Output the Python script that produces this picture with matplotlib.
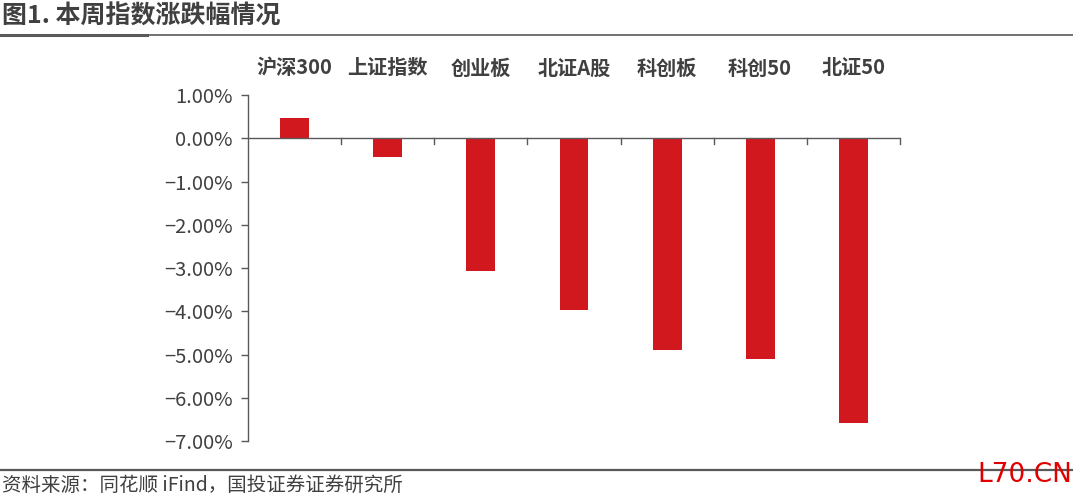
import matplotlib
matplotlib.use('Agg')
import matplotlib.pyplot as plt
from matplotlib.ticker import FuncFormatter
from matplotlib.lines import Line2D

plt.rcParams['font.family'] = ['Noto Sans CJK SC', 'DejaVu Sans']

# Index names and weekly change (%)
categories = ['沪深300', '上证指数', '创业板', '北证A股', '科创板', '科创50', '北证50']
changes = [0.47, -0.44, -3.07, -3.97, -4.89, -5.10, -6.58]

title = '图1. 本周指数涨跌幅情况'
source = '资料来源：同花顺 iFind，国投证券证券研究所'

grey = '#404040'
fig = plt.figure(figsize=(10.73, 4.98), dpi=100)
ax = fig.add_axes([248 / 1073, 1 - 441 / 498, (900 - 248) / 1073, (441 - 95) / 498])

x = list(range(len(categories)))
ax.bar(x, changes, width=0.31, color='#d2181f', zorder=2)

ax.set_xlim(-0.5, len(categories) - 0.5)
ax.set_ylim(-7, 1)
ax.set_yticks([1, 0, -1, -2, -3, -4, -5, -6, -7])
ax.yaxis.set_major_formatter(FuncFormatter(lambda v, p: f'{v:.2f}%'.replace('-', '−')))
ax.tick_params(axis='y', length=5, width=1, color='#595959', labelsize=14.5,
               labelcolor=grey, pad=6)

for s in ['top', 'right', 'bottom']:
    ax.spines[s].set_visible(False)
ax.spines['left'].set_color('#595959')
ax.spines['left'].set_linewidth(1)

# zero line with ticks at category boundaries
ax.axhline(0, color='#595959', lw=1, zorder=3)
ax.set_xticks([])
for b in range(1, len(categories) + 1):
    ax.plot([b - 0.5, b - 0.5], [0, -0.14], color='#595959', lw=1, zorder=3, clip_on=False)

# category labels above plot
for i, c in enumerate(categories):
    fig.text((248 + 93.1 * (i + 0.5)) / 1073, 1 - 68 / 498, c, ha='center', va='center',
             fontsize=14.5, color=grey, fontweight='bold')

# title and rules
fig.text(0.002, 1 - 17 / 498, title, ha='left', va='center', fontsize=18,
         color=grey, fontweight='bold')
fig.add_artist(Line2D([0, 1], [1 - 35 / 498, 1 - 35 / 498], color='#595959', lw=1.2))
fig.add_artist(Line2D([0, 147 / 1073], [1 - 35 / 498, 1 - 35 / 498], color='#595959', lw=2.2))
fig.add_artist(Line2D([0, 1], [1 - 470 / 498, 1 - 470 / 498], color='#595959', lw=1.6))

fig.text(0.002, 1 - 485 / 498, source, ha='left', va='center', fontsize=14,
         color=grey, style='italic')
fig.text(0.999, 1 - 475 / 498, 'L70.CN', ha='right', va='center', fontsize=19,
         color='#e00000', family='DejaVu Sans')

fig.savefig('out.png', dpi=100)
